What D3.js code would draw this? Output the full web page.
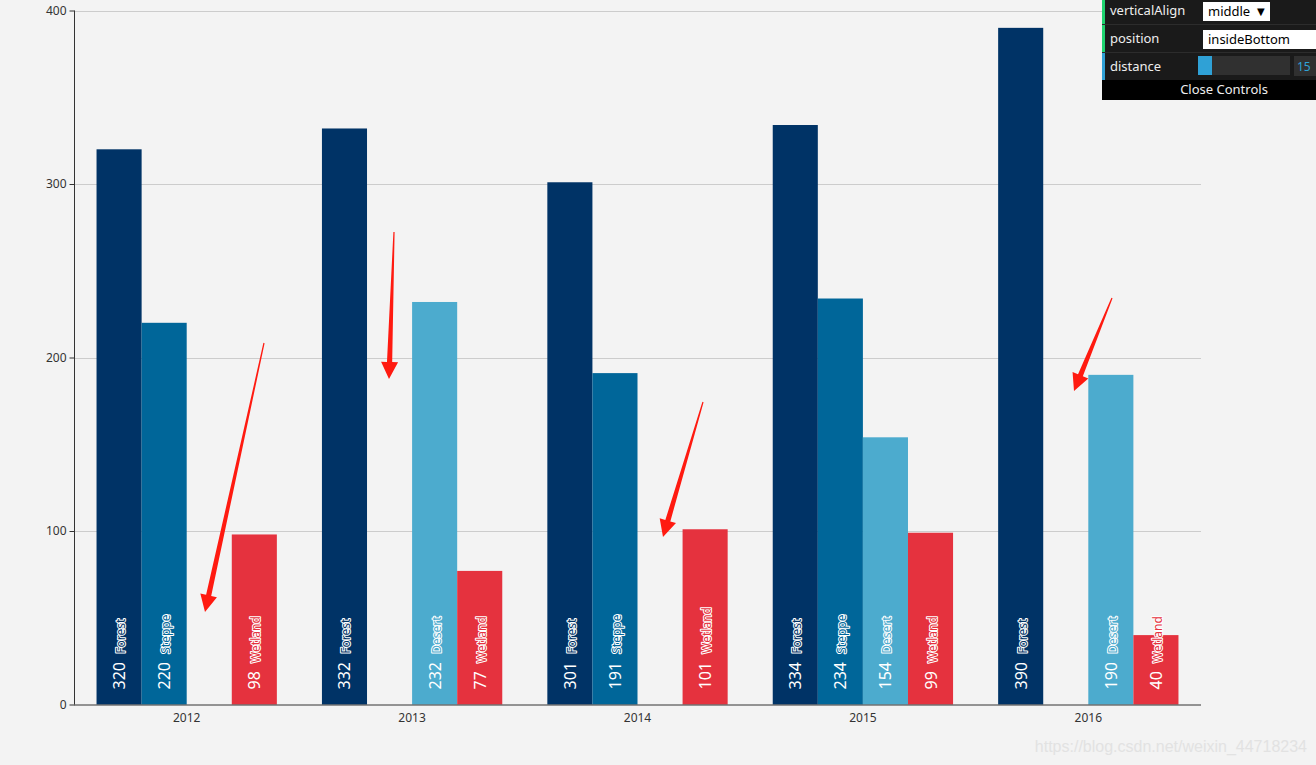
<!DOCTYPE html>
<html><head><meta charset="utf-8">
<script src="https://cdn.jsdelivr.net/npm/d3@7"></script>
<style>
html,body{margin:0;padding:0;background:#f3f3f3;}
svg{display:block;font-family:"Noto Sans","DejaVu Sans",sans-serif;}
</style></head>
<body>
<svg id="c" width="1316" height="765"></svg>
<script>
const categories = ["2012","2013","2014","2015","2016"];
const seriesNames = ["Forest","Steppe","Desert","Wetland"];
const forest = [320,332,301,334,390];
const steppe = [220,null,191,234,null];
const desert = [null,232,null,154,190];
const wetland = [98,77,101,99,40];
const yTicks = [0,100,200,300,400];
const colors = ["#003366","#006699","#4cabce","#e5323e"];
const seriesValues = [forest, steppe, desert, wetland];

(function(){
const svg = d3.select("#c");
const W = 1316, H = 765;
svg.append("rect").attr("width",W).attr("height",H).attr("fill","#f3f3f3");

const pl = 74, pr = 1201, pt = 10.5, pb = 704.5;
const x = d3.scaleBand().domain(categories).range([pl,pr]).paddingInner(0).paddingOuter(0);
const y = d3.scaleLinear().domain([0,400]).range([pb,pt]);

// grid
svg.append("g").selectAll("line").data(yTicks.filter(d=>d>0)).join("line")
  .attr("x1",pl).attr("x2",pr).attr("y1",d=>Math.round(y(d))+0.5).attr("y2",d=>Math.round(y(d))+0.5)
  .attr("stroke","#cccccc").attr("stroke-width",1);

// bars
const barW = x.bandwidth()*0.8/4;
const gapOuter = x.bandwidth()*0.1;
const data = [];
categories.forEach((c,ci)=>{
  seriesNames.forEach((s,si)=>{
    const v = seriesValues[si][ci];
    if (v!=null) data.push({c, s, si, v});
  });
});
const bx = d => x(d.c) + gapOuter + d.si*barW;
svg.append("g").selectAll("rect").data(data).join("rect")
  .attr("x",d=>bx(d)).attr("width",barW)
  .attr("y",d=>y(d.v)).attr("height",d=>pb-y(d.v))
  .attr("fill",d=>colors[d.si]);

// y axis
const ya = svg.append("g").attr("transform",`translate(${pl+0.5},0)`)
  .call(d3.axisLeft(y).tickValues(yTicks).tickSize(5).tickPadding(3));
ya.select(".domain").attr("stroke","#333").attr("d",`M0,${pb}V${pt}`);
ya.selectAll(".tick line").attr("stroke","#333");
ya.selectAll(".tick text").attr("fill","#333").attr("font-size",12).attr("font-family","Noto Sans, DejaVu Sans, sans-serif");

// x axis (no ticks)
const xa = svg.append("g").attr("transform",`translate(0,${pb+0.5})`)
  .call(d3.axisBottom(x).tickSize(0).tickPadding(8));
xa.select(".domain").attr("stroke","#333").attr("d",`M${pl},0H${pr}`);
xa.selectAll(".tick text").attr("fill","#333").attr("font-size",12).attr("font-family","Noto Sans, DejaVu Sans, sans-serif");

// labels
const lab = svg.append("g").selectAll("text").data(data).join("text")
  .attr("transform",d=>`translate(${bx(d)+barW/2+6},${pb-15}) rotate(-90)`)
  .attr("text-anchor","start");
lab.append("tspan").text(d=>d.v+"\u00a0\u00a0").attr("font-size",16).attr("fill","#fff");
lab.append("tspan").text(d=>d.s).attr("font-size",12)
  .attr("fill",d=>colors[d.si]).attr("stroke","#fff").attr("stroke-width",2)
  .attr("paint-order","stroke").attr("stroke-linejoin","round");

// annotation arrows
const arrows = [[264,343,205,612],[394,232,389,379],[703,402,663,537],[1112,298,1074,391]];
const ag = svg.append("g");
arrows.forEach(([x1,y1,x2,y2])=>{
  const dx=x2-x1, dy=y2-y1, L=Math.hypot(dx,dy), ux=dx/L, uy=dy/L, px=-uy, py=ux;
  const hl=17, hw=8.5, sw=2.6;
  const bxp=x2-ux*hl, byp=y2-uy*hl;
  const pts=[[x1+px*0.6,y1+py*0.6],[bxp+px*sw,byp+py*sw],[bxp+px*hw,byp+py*hw],[x2,y2],[bxp-px*hw,byp-py*hw],[bxp-px*sw,byp-py*sw],[x1-px*0.6,y1-py*0.6]];
  ag.append("polygon").attr("points",pts.map(p=>p.join(",")).join(" ")).attr("fill","#ff1a10");
});

// watermark
svg.append("text").attr("x",1307).attr("y",752).attr("text-anchor","end")
  .attr("font-size",16).attr("fill","#e2e2e2").attr("font-family","Arial, Liberation Sans, sans-serif")
  .text("https://blog.csdn.net/weixin_44718234");

// control panel
const p = svg.append("g").attr("font-family","Noto Sans, DejaVu Sans, sans-serif");
p.append("rect").attr("x",1102).attr("y",0).attr("width",214).attr("height",80).attr("fill","#1a1a1a");
[24,52].forEach(yy=>p.append("line").attr("x1",1102).attr("x2",1316).attr("y1",yy+0.5).attr("y2",yy+0.5).attr("stroke","#2c2c2c"));
p.append("rect").attr("x",1102).attr("y",0).attr("width",3).attr("height",24).attr("fill","#1ed36f");
p.append("rect").attr("x",1102).attr("y",25).attr("width",3).attr("height",27).attr("fill","#1ed36f");
p.append("rect").attr("x",1102).attr("y",53).attr("width",3).attr("height",27).attr("fill","#2fa1d6");
const rowLabels = [["verticalAlign",15],["position",43],["distance",71]];
p.selectAll("text.rl").data(rowLabels).join("text").attr("class","rl")
  .attr("x",1110).attr("y",d=>d[1]).attr("fill","#eee").attr("font-size",13).text(d=>d[0]);
p.append("rect").attr("x",1203).attr("y",2).attr("width",67).attr("height",19).attr("fill","#fff");
p.append("text").attr("x",1208).attr("y",16).attr("font-size",13).attr("fill","#000").text("middle");
p.append("text").attr("x",1257).attr("y",15).attr("font-size",10).attr("fill","#000").text("▼");
p.append("rect").attr("x",1203).attr("y",30).attr("width",113).attr("height",19).attr("fill","#fff");
p.append("text").attr("x",1208).attr("y",44).attr("font-size",13).attr("fill","#000").text("insideBottom");
p.append("rect").attr("x",1198).attr("y",56).attr("width",92).attr("height",19).attr("fill","#303030");
p.append("rect").attr("x",1198).attr("y",56).attr("width",14).attr("height",19).attr("fill","#2fa1d6");
p.append("rect").attr("x",1294).attr("y",56).attr("width",22).attr("height",20).attr("fill","#303030");
p.append("text").attr("x",1297).attr("y",71).attr("font-size",12).attr("fill","#2fa1d6").text("15");
p.append("rect").attr("x",1102).attr("y",80).attr("width",214).attr("height",20).attr("fill","#000");
p.append("text").attr("x",1224).attr("y",94).attr("text-anchor","middle").attr("font-size",13).attr("fill","#eee").text("Close Controls");
})();
</script>
</body></html>
